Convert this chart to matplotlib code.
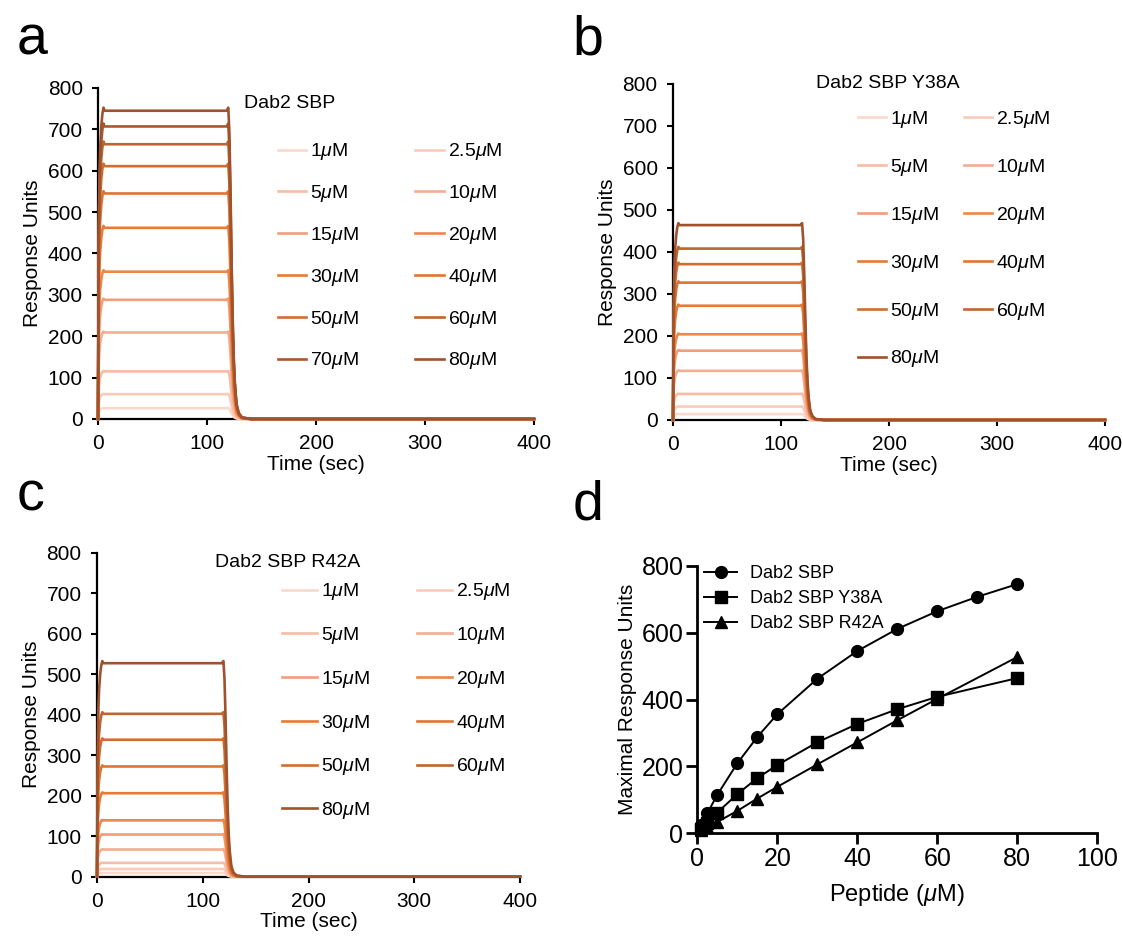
import matplotlib
matplotlib.use("Agg")
import matplotlib.pyplot as plt
import numpy as np

plt.rcParams['font.family'] = ['Liberation Sans', 'DejaVu Sans']
plt.rcParams['mathtext.fontset'] = 'custom'
plt.rcParams['mathtext.rm'] = 'Liberation Sans'
plt.rcParams['mathtext.it'] = 'Liberation Sans:italic'

# concentrations (uM) and plateau responses (RU)
conc_sbp = [1, 2.5, 5, 10, 15, 20, 30, 40, 50, 60, 70, 80]
resp_sbp = [26, 60, 115, 209, 288, 356, 462, 545, 611, 664, 707, 745]

conc_y38a = [1, 2.5, 5, 10, 15, 20, 30, 40, 50, 60, 80]
resp_y38a = [14, 32, 62, 117, 165, 204, 272, 327, 371, 408, 464]

conc_r42a = [1, 2.5, 5, 10, 15, 20, 30, 40, 50, 60, 80]
resp_r42a = [9, 19, 34, 67, 104, 139, 206, 272, 338, 402, 527]

# normalised sensorgram shape (time in s, fraction of plateau)
profile_t = [0, 0.5, 1, 1.5, 2, 3, 4, 5, 6, 8, 118, 119.5, 120.5, 121.5, 122.5,
             123.5, 124.5, 125.5, 127, 129, 132, 140, 400]
profile_f = [0, 0.55, 0.72, 0.82, 0.88, 0.95, 0.99, 1.01, 1.0, 1.0, 1.0, 1.01, 0.93,
             0.75, 0.52, 0.33, 0.2, 0.12, 0.05, 0.02, 0.005, 0, 0]

conc_colors = {
    1: '#fbd9cc', 2.5: '#f9cbb9', 5: '#f7bca5', 10: '#f5ad92', 15: '#f39d7a',
    20: '#ee8748', 30: '#ea7a33', 40: '#e07433', 50: '#d26d31', 60: '#be6530',
    70: '#a9582e', 80: '#9f532d',
}

FS = 15      # ticks / axis labels
LFS = 14     # legends / titles


def style_axes(ax):
    for s in ['top', 'right']:
        ax.spines[s].set_visible(False)
    for s in ['left', 'bottom']:
        ax.spines[s].set_linewidth(1.6)
    ax.tick_params(direction='out', length=4, width=1.5, labelsize=FS, pad=7)


def sensorgram(ax, concs, resps, title, title_xy, leg_anchor, leg_space, col_space,
               hlen=1.45):
    t = np.array(profile_t)
    f = np.array(profile_f)
    handles = []
    for c, r in zip(concs, resps):
        lab = f'{c:g}$\\mu$M'
        h, = ax.plot(t, f * r, color=conc_colors[c], lw=1.9, label=lab,
                     clip_on=False, zorder=3, solid_joinstyle='round')
        handles.append(h)
    ax.set_xlim(0, 400)
    ax.set_ylim(0, 800)
    ax.set_xticks(range(0, 401, 100))
    ax.set_yticks(range(0, 801, 100))
    ax.set_xlabel('Time (sec)', fontsize=FS, labelpad=1)
    ax.set_ylabel('Response Units', fontsize=FS, labelpad=4)
    style_axes(ax)
    ax.text(title_xy[0], title_xy[1], title, fontsize=LFS, ha='center', va='center')
    # row-wise legend order
    order = handles[0::2] + handles[1::2]
    ax.legend(handles=order, ncol=2, frameon=False, fontsize=LFS,
              loc='upper left', bbox_to_anchor=leg_anchor,
              handlelength=hlen, handletextpad=0.2, labelspacing=leg_space,
              columnspacing=col_space, borderaxespad=0)


fig = plt.figure(figsize=(11.23, 9.36), dpi=100)

ax_a = fig.add_axes([0.0873, 0.5524, 0.3882, 0.3536])
ax_b = fig.add_axes([0.5993, 0.5513, 0.3847, 0.3590])
ax_c = fig.add_axes([0.0864, 0.0634, 0.3767, 0.3462])
ax_d = fig.add_axes([0.6209, 0.1097, 0.3562, 0.2859])

sensorgram(ax_a, conc_sbp, resp_sbp, 'Dab2 SBP', (176, 763),
           (0.395, 0.862), 1.07, 2.9)
sensorgram(ax_b, conc_y38a, resp_y38a, 'Dab2 SBP Y38A', (199, 802),
           (0.41, 0.948), 1.38, 1.3)
sensorgram(ax_c, conc_r42a, resp_r42a, 'Dab2 SBP R42A', (180, 775),
           (0.42, 0.935), 1.17, 2.4, hlen=1.8)

for letter, x, y in [('a', 0.015, 0.942), ('b', 0.51, 0.942),
                     ('c', 0.015, 0.455), ('d', 0.51, 0.445)]:
    fig.text(x, y, letter, fontsize=40, ha='left', va='baseline')

# panel d: maximal response vs peptide concentration
ax_d.plot(conc_sbp, resp_sbp, color='black', lw=1.4, marker='o', ms=8.5,
          label='Dab2 SBP', clip_on=False, zorder=3)
ax_d.plot(conc_y38a, resp_y38a, color='black', lw=1.4, marker='s', ms=8,
          label='Dab2 SBP Y38A', clip_on=False, zorder=3)
ax_d.plot(conc_r42a, resp_r42a, color='black', lw=1.4, marker='^', ms=8.5,
          label='Dab2 SBP R42A', clip_on=False, zorder=3)
ax_d.set_xlim(0, 100)
ax_d.set_ylim(0, 800)
ax_d.set_xticks(range(0, 101, 20))
ax_d.set_yticks(range(0, 801, 200))
ax_d.set_xlabel('Peptide ($\\mu$M)', fontsize=17, labelpad=8)
ax_d.set_ylabel('Maximal Response Units', fontsize=15, labelpad=3)
for s in ['top', 'right']:
    ax_d.spines[s].set_visible(False)
for s in ['left', 'bottom']:
    ax_d.spines[s].set_linewidth(2.0)
ax_d.tick_params(direction='out', length=8, width=2.0, labelsize=18, pad=2)
ax_d.legend(frameon=False, fontsize=13, loc='upper left',
            bbox_to_anchor=(0.0, 1.03), handlelength=1.8, handletextpad=0.7,
            labelspacing=0.45, borderaxespad=0)

fig.savefig('out.png', dpi=100, facecolor='white')
